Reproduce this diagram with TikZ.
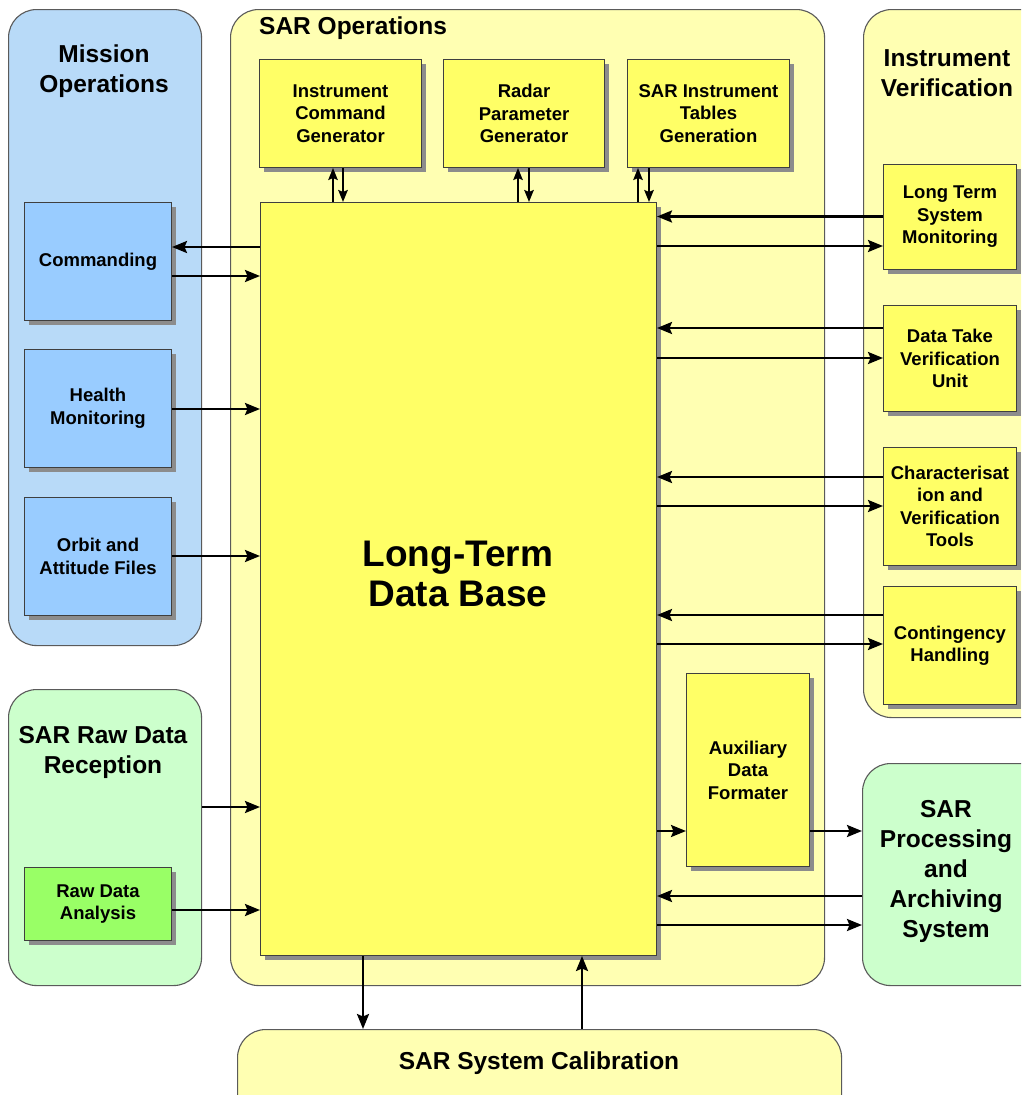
\documentclass[tikz,border=0pt]{standalone}
\usepackage{fontspec}
\setmainfont{Liberation Sans}
\usetikzlibrary{arrows.meta,shadows}

\definecolor{panelblue}{RGB}{184,218,248}
\definecolor{boxblue}{RGB}{153,204,255}
\definecolor{panelyellow}{RGB}{255,255,178}
\definecolor{boxyellow}{RGB}{255,255,102}
\definecolor{panelgreen}{RGB}{204,255,204}
\definecolor{boxgreen}{RGB}{153,255,102}
\definecolor{edgegray}{RGB}{90,90,90}

\newcommand\boxfont{\fontsize{18.5}{22.5}\selectfont\bfseries}
\newcommand\titlefont{\fontsize{24.5}{30}\selectfont\bfseries}
\newcommand\bigfont{\fontsize{37}{40}\selectfont\bfseries}

\begin{document}
\begin{tikzpicture}[x=1pt,y=-1pt,
  panel/.style={draw=edgegray, line width=1.1pt, rounded corners=28pt,
    anchor=north west, inner sep=0pt},
  paneltitle/.style={font=\titlefont, align=center, inner sep=0pt},
  unit/.style={draw=edgegray!70!black, line width=1pt, anchor=north west,
    inner sep=0pt, align=center, font=\boxfont,
    drop shadow={shadow xshift=4pt, shadow yshift=-4pt, fill=black!45, opacity=1}},
  arr/.style={line width=2.4pt, -{Stealth[length=15pt,width=12pt,inset=2.5pt]}},
  arrs/.style={line width=2pt, -{Stealth[length=12pt,width=9.5pt,inset=2pt]}}
]
\useasboundingbox (0,0) rectangle (1021,1095);
\fill[white] (0,0) rectangle (1021,1095);
\clip (0,0) rectangle (1021,1095);

% ---- outer groups ----
\node[panel, fill=panelblue,   minimum width=193pt, minimum height=636pt] (missionops) at (8,9) {};
\node[panel, fill=panelyellow, minimum width=594pt, minimum height=976pt] (sarops) at (230,9) {};
\node[panel, fill=panelyellow, minimum width=200pt, minimum height=708pt] (instver) at (863,9) {};
\node[panel, fill=panelgreen,  minimum width=193pt, minimum height=296pt] (rawrx) at (8,689) {};
\node[panel, fill=panelgreen,  minimum width=200pt, minimum height=222pt] (sarproc) at (862,763) {};
\node[panel, fill=panelyellow, minimum width=604pt, minimum height=110pt] (calib) at (237,1029) {};

% ---- group titles ----
\node[paneltitle] (missiontitle) at (104,71) {Mission\\Operations};
\node[paneltitle, anchor=west] (sarotitle) at (259,28) {SAR Operations};
\node[paneltitle] (ivtitle) at (947,73) {Instrument\\Verification};
\node[paneltitle] (rawtitle) at (103,752) {SAR Raw Data\\Reception};
\node[paneltitle] (proctitle) at (946,871) {SAR\\Processing\\and\\Archiving\\System};
\node[paneltitle] (caltitle) at (539,1063) {SAR System Calibration};

% ---- mission operations ----
\node[unit, fill=boxblue, minimum width=147pt, minimum height=118pt] (cmd) at (24,202) {Commanding};
\node[unit, fill=boxblue, minimum width=147pt, minimum height=118pt] (health) at (24,349) {Health\\Monitoring};
\node[unit, fill=boxblue, minimum width=147pt, minimum height=118pt] (orbit) at (24,497) {Orbit and\\Attitude Files};

% ---- raw data reception ----
\node[unit, fill=boxgreen, minimum width=147pt, minimum height=73pt] (rawan) at (24,867) {Raw Data\\Analysis};

% ---- SAR operations ----
\node[unit, fill=boxyellow, minimum width=162pt, minimum height=108pt] (icg) at (259,59) {Instrument\\Command\\Generator};
\node[unit, fill=boxyellow, minimum width=161pt, minimum height=108pt] (rpg) at (443,59) {Radar\\Parameter\\Generator};
\node[unit, fill=boxyellow, minimum width=162pt, minimum height=108pt] (sitg) at (627,59) {SAR Instrument\\Tables\\Generation};
\node[unit, fill=boxyellow, minimum width=396pt, minimum height=753pt] (ltdb) at (260,202) {};
\node[font=\bigfont, align=center, inner sep=0pt] (ltdbtext) at (458,574) {Long-Term\\Data Base};
\node[unit, fill=boxyellow, minimum width=123pt, minimum height=193pt] (aux) at (686,673) {Auxiliary\\Data\\Formater};

% ---- instrument verification ----
\node[unit, fill=boxyellow, minimum width=133pt, minimum height=105pt] (ltsm) at (883,164) {Long Term\\System\\Monitoring};
\node[unit, fill=boxyellow, minimum width=133pt, minimum height=106pt] (dtvu) at (883,305) {Data Take\\Verification\\Unit};
\node[unit, fill=boxyellow, minimum width=133pt, minimum height=118pt] (cvt) at (883,447) {Characterisat\\ion and\\Verification\\Tools};
\node[unit, fill=boxyellow, minimum width=133pt, minimum height=118pt] (cont) at (883,586) {Contingency\\Handling};

% ---- data flows: left side ----
\draw[arr] (ltdb.west |- 0,247) -- (cmd.east |- 0,247);
\draw[arr] (cmd.east |- 0,276) -- (ltdb.west |- 0,276);
\draw[arr] (health.east |- 0,409) -- (ltdb.west |- 0,409);
\draw[arr] (orbit.east |- 0,556) -- (ltdb.west |- 0,556);
\draw[arr] (rawrx.east |- 0,807) -- (ltdb.west |- 0,807);
\draw[arr] (rawan.east |- 0,910) -- (ltdb.west |- 0,910);

% ---- data flows: generators ----
\draw[arrs] (ltdb.north -| 333,0) -- (icg.south -| 333,0);
\draw[arrs] (icg.south -| 343,0) -- (ltdb.north -| 343,0);
\draw[arrs] (ltdb.north -| 518,0) -- (rpg.south -| 518,0);
\draw[arrs] (rpg.south -| 529,0) -- (ltdb.north -| 529,0);
\draw[arrs] (ltdb.north -| 638,0) -- (sitg.south -| 638,0);
\draw[arrs] (sitg.south -| 649,0) -- (ltdb.north -| 649,0);

% ---- data flows: right side ----
\draw[arr] (ltsm.west |- 0,216.5) -- (ltdb.east |- 0,216.5);
\draw[arr] (ltdb.east |- 0,246) -- (ltsm.west |- 0,246);
\draw[arr] (dtvu.west |- 0,328) -- (ltdb.east |- 0,328);
\draw[arr] (ltdb.east |- 0,358) -- (dtvu.west |- 0,358);
\draw[arr] (cvt.west |- 0,477) -- (ltdb.east |- 0,477);
\draw[arr] (ltdb.east |- 0,506) -- (cvt.west |- 0,506);
\draw[arr] (cont.west |- 0,615) -- (ltdb.east |- 0,615);
\draw[arr] (ltdb.east |- 0,644) -- (cont.west |- 0,644);
\draw[arr] (ltdb.east |- 0,831) -- (aux.west |- 0,831);
\draw[arr] (aux.east |- 0,831) -- (sarproc.west |- 0,831);
\draw[arr] (sarproc.west |- 0,896) -- (ltdb.east |- 0,896);
\draw[arr] (ltdb.east |- 0,925) -- (sarproc.west |- 0,925);

% ---- data flows: calibration ----
\draw[arr] (ltdb.south -| 363,0) -- (calib.north -| 363,0);
\draw[arr] (calib.north -| 582,0) -- (ltdb.south -| 582,0);
\end{tikzpicture}
\end{document}
